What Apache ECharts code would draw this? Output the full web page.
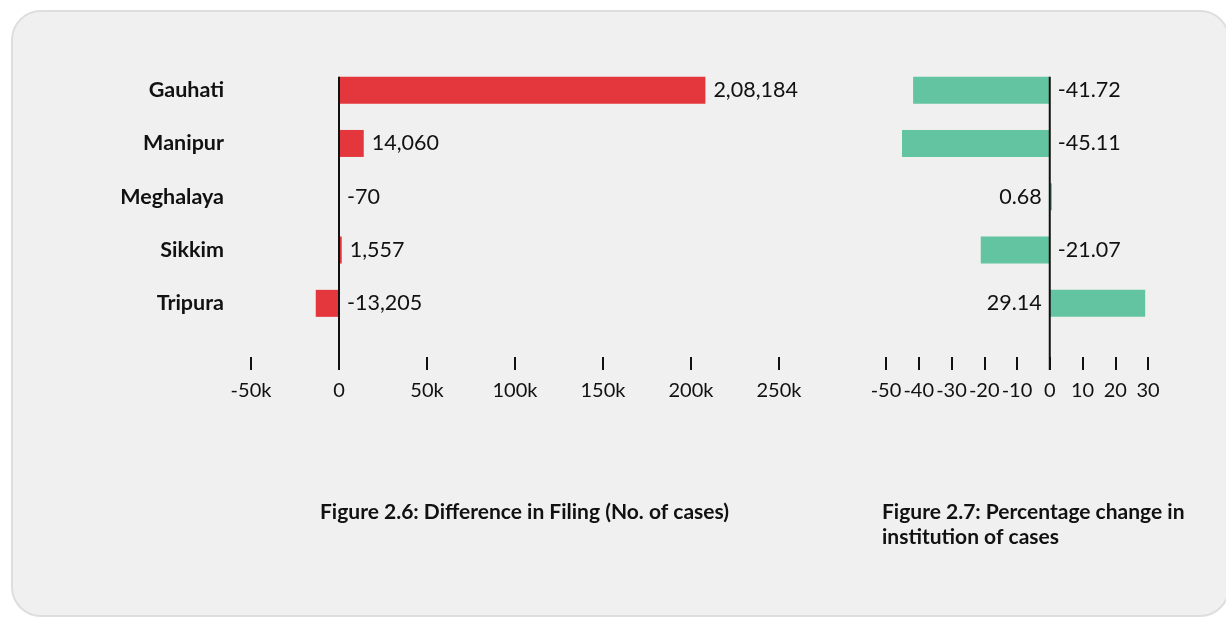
<!DOCTYPE html>
<html>
<head>
<meta charset="utf-8">
<script src="https://cdn.jsdelivr.net/npm/echarts@6/dist/echarts.min.js"></script>
<style>
  html, body { margin: 0; padding: 0; background: #fff; overflow: hidden; }
  #panel {
    position: absolute; left: 11px; top: 10px; width: 1215px; height: 603px;
    background: #f0f0f0; border: 2px solid #dedede; border-radius: 30px;
  }
  #main { position: absolute; left: 0; top: 0; width: 1226px; height: 618px; }
</style>
</head>
<body>
<div id="panel"></div>
<div id="main"></div>
<script>
// data
const courts = ["Gauhati", "Manipur", "Meghalaya", "Sikkim", "Tripura"];
const filingDiff = [208184, 14060, -70, 1557, -13205];
const pctChange = [-41.72, -45.11, 0.68, -21.07, 29.14];
const caption1 = "Figure 2.6: Difference in Filing (No. of cases)";
const caption2 = "Figure 2.7: Percentage change in\ninstitution of cases";

const FONT = "Lato";
const BAR_W = 27;
const AXIS_OFFSET = 40;

// indian digit grouping, 208184 -> 2,08,184
function inr(n) {
  let s = Math.abs(n).toString();
  let last3 = s.slice(-3), rest = s.slice(0, -3);
  if (rest) last3 = "," + last3;
  rest = rest.replace(/\B(?=(\d{2})+(?!\d))/g, ",");
  return (n < 0 ? "-" : "") + rest + last3;
}

let myChart = echarts.init(document.getElementById("main"));

function valueAxis(gridIndex, min, max, interval, fmt) {
  return {
    type: "value",
    gridIndex: gridIndex,
    min: min,
    max: max,
    interval: interval,
    offset: AXIS_OFFSET,
    axisLine: { show: false },
    axisTick: { show: true, inside: true, length: 13, lineStyle: { color: "#111", width: 2 } },
    axisLabel: { margin: 11, color: "#111", fontSize: 20, fontFamily: FONT, formatter: fmt },
    splitLine: { show: false }
  };
}

function catAxis(gridIndex, showLabel) {
  return {
    type: "category",
    gridIndex: gridIndex,
    data: courts,
    inverse: true,
    axisLine: { show: false },
    axisTick: { show: false },
    axisLabel: {
      show: showLabel,
      margin: 27,
      color: "#111",
      fontSize: 21.5,
      fontWeight: "bold",
      fontFamily: FONT
    }
  };
}

let option = {
  animation: false,
  backgroundColor: "transparent",
  textStyle: { fontFamily: FONT },
  title: [
    {
      text: caption1, left: 315, top: 497,
      textStyle: { fontSize: 21, fontWeight: "bold", color: "#111", fontFamily: FONT }
    },
    {
      text: caption2, left: 877, top: 495,
      textStyle: { fontSize: 21, fontWeight: "bold", color: "#111", fontFamily: FONT, lineHeight: 25 }
    }
  ],
  grid: [
    { left: 251, width: 528, top: 63.5, height: 266.5 },
    { left: 886, width: 262, top: 63.5, height: 266.5 }
  ],
  xAxis: [
    valueAxis(0, -50000, 250000, 50000, v => (v === 0 ? "0" : v / 1000 + "k")),
    valueAxis(1, -50, 30, 10, v => String(v))
  ],
  yAxis: [catAxis(0, true), catAxis(1, false)],
  series: [
    {
      type: "bar",
      xAxisIndex: 0,
      yAxisIndex: 0,
      barWidth: BAR_W,
      itemStyle: { color: "#e3373d" },
      label: {
        show: true,
        position: "right",
        distance: 8,
        color: "#111",
        fontSize: 21.5,
        fontFamily: FONT,
        formatter: p => inr(p.value)
      },
      data: filingDiff
    },
    {
      type: "bar",
      xAxisIndex: 1,
      yAxisIndex: 1,
      barWidth: BAR_W,
      itemStyle: { color: "#63c4a1" },
      label: {
        show: true,
        distance: 8,
        color: "#111",
        fontSize: 21.5,
        fontFamily: FONT,
        formatter: p => Number(p.value).toFixed(2)
      },
      // negative bars get the label right of zero, positive ones left of zero
      data: pctChange.map(v => ({ value: v, label: { position: v < 0 ? "right" : "left" } }))
    }
  ]
};

myChart.setOption(option, true);

// zero lines, from the top of the first bar down to the tick row
let lines = [];
for (let g = 0; g < 2; g++) {
  let x0 = myChart.convertToPixel({ xAxisIndex: g }, 0);
  let c0 = myChart.convertToPixel({ yAxisIndex: g }, courts[0]);
  let c1 = myChart.convertToPixel({ yAxisIndex: g }, courts[1]);
  let cLast = myChart.convertToPixel({ yAxisIndex: g }, courts[courts.length - 1]);
  let band = c1 - c0;
  lines.push({
    type: "line",
    z: 100,
    shape: { x1: x0, y1: c0 - BAR_W / 2, x2: x0, y2: cLast + band / 2 + AXIS_OFFSET },
    style: { stroke: "#111", lineWidth: 2 }
  });
}
myChart.setOption({ graphic: lines });
</script>
</body>
</html>
